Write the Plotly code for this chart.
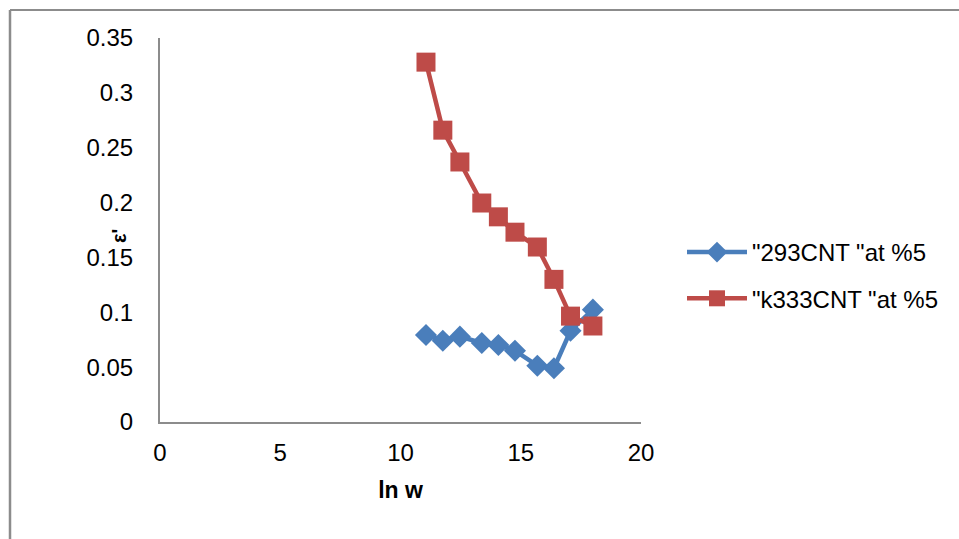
import plotly.graph_objects as go

ln_w = [11.06, 11.76, 12.47, 13.38, 14.07, 14.76, 15.69, 16.38, 17.07, 18.0]
eps_293 = [0.0793, 0.0741, 0.0778, 0.0720, 0.0702, 0.0650, 0.0513, 0.0490, 0.0832, 0.1024]
eps_333 = [0.328, 0.266, 0.237, 0.1996, 0.187, 0.173, 0.1595, 0.130, 0.0965, 0.0875]
names = ['"293CNT "at %5', '"k333CNT "at %5']

FONT = "Liberation Sans, Arial, sans-serif"

fig = go.Figure()
fig.add_trace(go.Scatter(
    x=ln_w, y=eps_293, name=names[0], mode="lines+markers", legendgroup="a",
    line=dict(color="#4A7EBB", width=4.5),
    marker=dict(symbol="diamond", size=17, color="#4A7EBB"),
))
fig.add_trace(go.Scatter(
    x=ln_w, y=eps_333, name=names[1], mode="lines+markers", legendgroup="b",
    line=dict(color="#BE4B48", width=4.5),
    marker=dict(symbol="square", size=19, color="#BE4B48"),
))

OFF = 0  # body margin removed by post_script
L, T = 160, 38
W, H = 481, 384
def px(xp):
    return (xp - L) / W
def py(yp):
    return 1 - (yp - T) / H

# outer frame (left and top edges visible)
fig.add_shape(type="line", xref="paper", yref="paper",
              x0=px(10), x1=px(10), y0=py(560), y1=py(10),
              line=dict(color="#8C8C8C", width=2.5), layer="below")
fig.add_shape(type="line", xref="paper", yref="paper",
              x0=px(10), x1=px(990), y0=py(10), y1=py(10),
              line=dict(color="#8C8C8C", width=2), layer="below")

fig.add_annotation(text="<b>ε'</b>", xref="paper", yref="paper",
                   x=px(119), y=py(236), showarrow=False, textangle=-90,
                   font=dict(size=20), xanchor="center", yanchor="middle")

fig.update_layout(
    width=959, height=539,
    margin=dict(l=L - OFF, r=959 - L - W + OFF, t=T - OFF, b=539 - T - H + OFF),
    paper_bgcolor="white", plot_bgcolor="white",
    font=dict(family=FONT, size=24, color="black"),
    showlegend=True,
    legend=dict(x=px(682), y=py(230), xanchor="left", yanchor="top",
                font=dict(size=24), itemwidth=60, tracegroupgap=12,
                bgcolor="rgba(0,0,0,0)"),
    xaxis=dict(range=[0, 20], dtick=5, showgrid=False, zeroline=False,
               showline=True, linecolor="#8C8C8C", linewidth=2,
               ticks="", ticklabelstandoff=8,
               title=dict(text="<b>ln w</b>", font=dict(size=23), standoff=17)),
    yaxis=dict(range=[0, 0.35], dtick=0.05, showgrid=False, zeroline=False,
               showline=True, linecolor="#8C8C8C", linewidth=2,
               ticks="", ticklabelstandoff=20),
)

fig.write_html(
    "out.html",
    config={"displayModeBar": False},
    post_script="document.body.style.margin='0';document.body.style.overflow='hidden';",
)
